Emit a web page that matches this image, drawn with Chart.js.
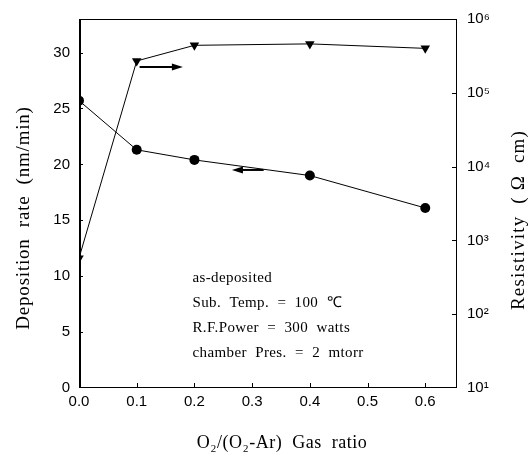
<!DOCTYPE html>
<html>
<head>
<meta charset="utf-8">
<script src="https://cdn.jsdelivr.net/npm/chart.js@4.4.1/dist/chart.umd.min.js"></script>
<style>
  html, body { margin: 0; padding: 0; background: #fff; }
  #wrap { width: 532px; height: 453px; }
</style>
</head>
<body>
<div id="wrap"><canvas id="c" width="532" height="453"></canvas></div>
<script>
// ---- data ----
const gasRatio = [0.0, 0.1, 0.2, 0.4, 0.6];
const depositionRate = [25.7, 21.3, 20.4, 19.0, 16.1];      // nm/min, left axis
const resistivity = [575, 2.7e5, 4.4e5, 4.6e5, 4.0e5];       // ohm-cm, right axis (log)
const xTickValues = [0.0, 0.1, 0.2, 0.3, 0.4, 0.5, 0.6];
const leftTickValues = [0, 5, 10, 15, 20, 25, 30];
const rightTickValues = [10, 100, 1000, 10000, 100000, 1000000];
const supers = {'0':'⁰','1':'¹','2':'²','3':'³','4':'⁴','5':'⁵','6':'⁶','7':'⁷','8':'⁸','9':'⁹'};
const annotationLines = [
  'as-deposited',
  'Sub.  Temp.  =  100  ℃',
  'R.F.Power  =  300  watts',
  'chamber  Pres.  =  2  mtorr'
];
const xTitle = 'O₂/(O₂-Ar)  Gas  ratio';
const leftTitle = 'Deposition  rate  (nm/min)';
const rightTitle = 'Resistivity  ( Ω  cm)';

const tickFont = { family: 'Liberation Sans', size: 15 };
const serif = 'Liberation Serif';

const framePlugin = {
  id: 'frame',
  afterDatasetsDraw(chart) {
    const ctx = chart.ctx;
    const a = chart.chartArea;
    const sx = chart.scales.x, sy = chart.scales.y, sy2 = chart.scales.y2;
    ctx.save();
    ctx.strokeStyle = '#000';
    ctx.fillStyle = '#000';
    // frame
    ctx.lineWidth = 1;
    ctx.beginPath();
    ctx.moveTo(a.left, a.top + 0.5); ctx.lineTo(a.right, a.top + 0.5);
    ctx.moveTo(a.right - 0.5, a.top); ctx.lineTo(a.right - 0.5, a.bottom);
    ctx.moveTo(a.left, a.bottom - 0.5); ctx.lineTo(a.right, a.bottom - 0.5);
    ctx.stroke();
    ctx.lineWidth = 2;
    ctx.beginPath();
    ctx.moveTo(a.left + 1, a.top); ctx.lineTo(a.left + 1, a.bottom);
    ctx.stroke();
    // inward ticks
    ctx.lineWidth = 1;
    ctx.beginPath();
    xTickValues.forEach(v => {
      if (v === 0) return;
      const px = Math.round(sx.getPixelForValue(v)) + 0.5;
      ctx.moveTo(px, a.bottom); ctx.lineTo(px, a.bottom - 5);
    });
    leftTickValues.forEach(v => {
      if (v === 0) return;
      const py = Math.round(sy.getPixelForValue(v)) + 0.5;
      ctx.moveTo(a.left + 2, py); ctx.lineTo(a.left + 4, py);
    });
    rightTickValues.forEach(v => {
      if (v === 10 || v === 1e6) return;
      const py = Math.round(sy2.getPixelForValue(v)) + 0.5;
      ctx.moveTo(a.right, py); ctx.lineTo(a.right - 5, py);
    });
    ctx.stroke();
    // arrows
    function arrow(x1, x2, yv, scale) {
      const p1 = sx.getPixelForValue(x1), p2 = sx.getPixelForValue(x2);
      const py = scale.getPixelForValue(yv);
      const dir = Math.sign(p2 - p1);
      ctx.lineWidth = 2;
      ctx.beginPath();
      ctx.moveTo(p1, py); ctx.lineTo(p2 - dir * 8, py);
      ctx.stroke();
      ctx.beginPath();
      ctx.moveTo(p2, py);
      ctx.lineTo(p2 - dir * 11, py - 3.5);
      ctx.lineTo(p2 - dir * 11, py + 3.5);
      ctx.closePath();
      ctx.fill();
    }
    arrow(0.105, 0.18, 28.7, sy);
    arrow(0.32, 0.265, 19.5, sy);
    // annotation text
    ctx.font = '15px ' + serif;
    ctx.letterSpacing = '0.4px';
    ctx.textBaseline = 'middle';
    ctx.textAlign = 'left';
    annotationLines.forEach((t, i) => {
      ctx.fillText(t, sx.getPixelForValue(0.2) - 2, 278 + i * 25);
    });
    // x title
    ctx.font = '18px ' + serif;
    ctx.letterSpacing = '0.5px';
    ctx.textAlign = 'center';
    ctx.fillText(xTitle, 282, 443);
    // left title (reads bottom-to-top)
    ctx.save();
    ctx.translate(24, 218);
    ctx.rotate(-Math.PI / 2);
    ctx.font = '19px ' + serif;
    ctx.letterSpacing = '0.8px';
    ctx.fillText(leftTitle, 0, 0);
    ctx.restore();
    // right title (reads bottom-to-top)
    ctx.save();
    ctx.translate(519, 220);
    ctx.rotate(-Math.PI / 2);
    ctx.font = '19px ' + serif;
    ctx.letterSpacing = '1.2px';
    ctx.fillText(rightTitle, 0, 0);
    ctx.restore();
    ctx.restore();
  }
};

const chart = new Chart(document.getElementById('c'), {
  type: 'line',
  data: {
    datasets: [
      {
        label: 'Deposition rate',
        data: gasRatio.map((x, i) => ({ x, y: depositionRate[i] })),
        yAxisID: 'y',
        borderColor: '#000',
        backgroundColor: '#000',
        borderWidth: 1,
        pointStyle: 'circle',
        pointRadius: 5,
        pointBorderWidth: 0,
        tension: 0
      },
      {
        label: 'Resistivity',
        data: gasRatio.map((x, i) => ({ x, y: resistivity[i] })),
        yAxisID: 'y2',
        borderColor: '#000',
        backgroundColor: '#000',
        borderWidth: 1,
        pointStyle: 'triangle',
        rotation: 180,
        pointRadius: 5.5,
        pointBorderWidth: 0,
        tension: 0
      }
    ]
  },
  options: {
    responsive: false,
    animation: false,
    devicePixelRatio: 1,
    layout: { padding: { top: 17, left: 0, right: 0, bottom: 0 } },
    plugins: { legend: { display: false }, tooltip: { enabled: false } },
    scales: {
      x: {
        type: 'linear',
        min: 0, max: 0.655,
        afterBuildTicks: s => { s.ticks = xTickValues.map(v => ({ value: v })); },
        afterFit: s => { s.height = 65; },
        grid: { display: false, drawTicks: false },
        border: { display: false },
        ticks: { color: '#000', font: tickFont, padding: 5, maxRotation: 0, autoSkip: false,
                 callback: v => Number(v).toFixed(1) },
        title: { display: false }
      },
      y: {
        position: 'left',
        min: 0, max: 33,
        afterBuildTicks: s => { s.ticks = leftTickValues.map(v => ({ value: v })); },
        afterFit: s => { s.width = 79; },
        grid: { display: false, drawTicks: false },
        border: { display: false },
        ticks: { color: '#000', font: tickFont, padding: 9, autoSkip: false },
        title: { display: false }
      },
      y2: {
        type: 'logarithmic',
        position: 'right',
        min: 10, max: 1e6,
        afterBuildTicks: s => { s.ticks = rightTickValues.map(v => ({ value: v })); },
        afterFit: s => { s.width = 75; },
        grid: { display: false, drawTicks: false },
        border: { display: false },
        ticks: { color: '#000', font: tickFont, padding: 10, autoSkip: false,
                 callback: v => '10' + String(Math.round(Math.log10(v))).split('').map(d => supers[d]).join('') }
      }
    }
  },
  plugins: [framePlugin]
});
</script>
</body>
</html>
